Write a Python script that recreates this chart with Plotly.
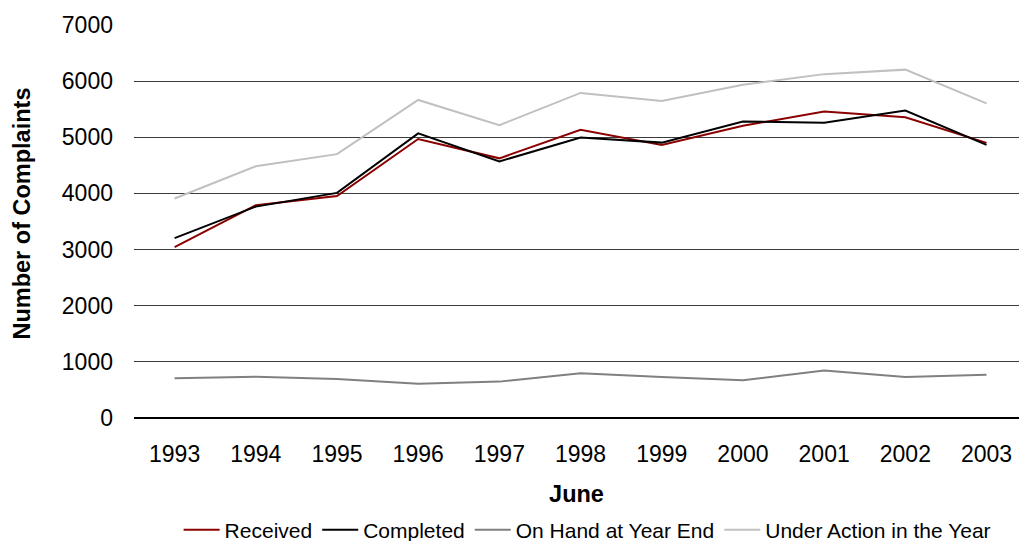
import plotly.graph_objects as go

# Complaint statistics by year (as at June)
years = ["1993", "1994", "1995", "1996", "1997", "1998", "1999", "2000", "2001", "2002", "2003"]
received = [3045, 3790, 3955, 4970, 4625, 5135, 4865, 5205, 5460, 5355, 4900]
completed = [3205, 3765, 4010, 5070, 4570, 4995, 4905, 5280, 5260, 5475, 4865]
on_hand = [710, 735, 695, 612, 648, 795, 732, 672, 845, 732, 772]
under_action = [3910, 4485, 4700, 5665, 5215, 5790, 5645, 5935, 6125, 6205, 5605]

y_ticks = [0, 1000, 2000, 3000, 4000, 5000, 6000, 7000]
grid_vals = [1000, 2000, 3000, 4000, 5000, 6000]

FONT = "Liberation Sans, Arial, sans-serif"

series = [
    ("Received", received, "#8B0000"),
    ("Completed", completed, "#000000"),
    ("On Hand at Year End", on_hand, "#808080"),
    ("Under Action in the Year", under_action, "#C0C0C0"),
]

fig = go.Figure()
for name, vals, color in series:
    fig.add_trace(go.Scatter(
        x=years, y=vals, name=name, mode="lines",
        line=dict(color=color, width=2),
    ))

# empty trace so the labelled value axis is rendered
fig.add_trace(go.Scatter(x=[], y=[], yaxis="y2", showlegend=False, hoverinfo="skip"))

fig.update_layout(
    width=1019, height=541,
    margin=dict(l=134, r=0, t=25, b=123, autoexpand=False),
    paper_bgcolor="white", plot_bgcolor="white",
    font=dict(family=FONT, size=23, color="#000000"),
    showlegend=True,
    legend=dict(
        orientation="h", x=0.512, xanchor="center", y=-0.285, yanchor="middle",
        font=dict(size=21, color="#000000"), itemwidth=36,
        bgcolor="rgba(0,0,0,0)",
    ),
    xaxis=dict(
        type="category", range=[-0.5, 10.4],
        showgrid=False, showline=False, zeroline=False,
        ticks="", ticklabelstandoff=20,
        tickfont=dict(size=23),
        title=dict(text="<b>June</b>", font=dict(size=23.5), standoff=19),
        automargin=False,
    ),
    # gridline axis: lines at 1000..6000, no labels
    yaxis=dict(
        range=[0, 7000], tickvals=grid_vals,
        showgrid=True, gridcolor="#3c3c3c", gridwidth=1,
        zeroline=True, zerolinecolor="#000000", zerolinewidth=2,
        showticklabels=False, ticks="",
        automargin=False,
    ),
    # label axis: tick labels 0..7000, no grid
    yaxis2=dict(
        range=[0, 7000], tickvals=y_ticks, overlaying="y", side="left", anchor="x",
        showgrid=False, zeroline=False, showline=False, ticks="",
        ticklabelstandoff=20, tickfont=dict(size=23),
        automargin=False,
    ),
    annotations=[dict(
        text="<b>Number of Complaints</b>", textangle=-90,
        xref="paper", yref="paper", x=0, y=0.519,
        xanchor="center", yanchor="middle", xshift=-111.5,
        showarrow=False, font=dict(size=23.5),
    )],
)

fig.write_html("out.html")
